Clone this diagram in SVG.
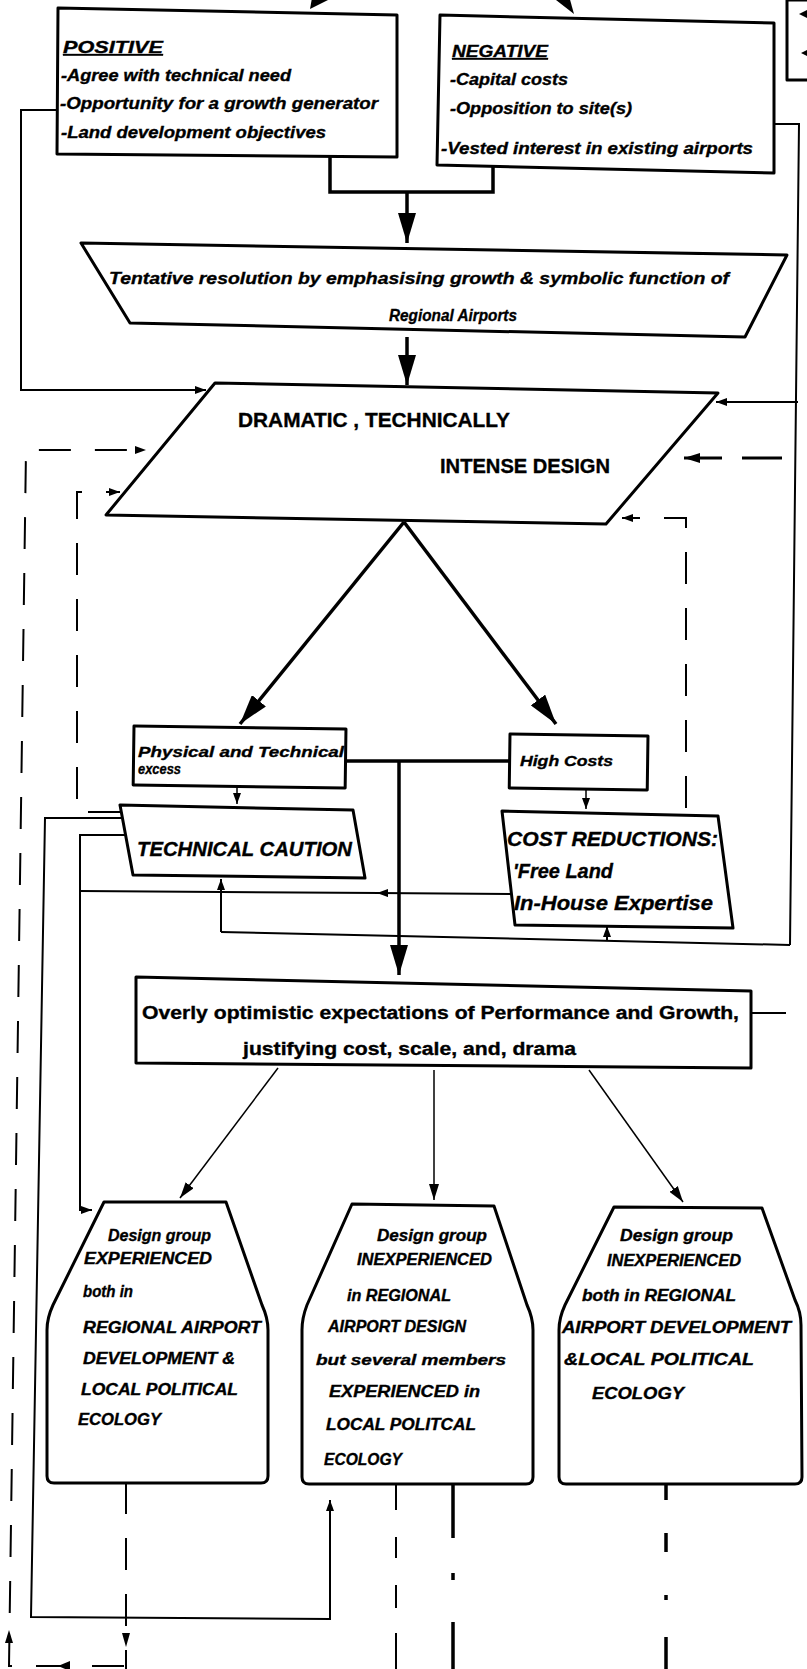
<svg xmlns="http://www.w3.org/2000/svg" width="807" height="1669" viewBox="0 0 807 1669">
<style>
.box{fill:#fff;stroke:#000;stroke-width:3;stroke-linejoin:round}
.ln{fill:none;stroke:#000;stroke-width:2}
.thk{fill:none;stroke:#000;stroke-width:3.5}
.thn{fill:none;stroke:#000;stroke-width:1.5}
.dsh{fill:none;stroke:#000;stroke-width:2;stroke-dasharray:32 24}
.ah{fill:#000}
text{font-family:"Liberation Sans",Arial,sans-serif;font-weight:bold;fill:#000;stroke:#000;stroke-width:0.35}
.it{font-style:italic}
.s15{font-size:15px}
.s16{font-size:16px}
.s17{font-size:17px}
.s18{font-size:18px}
.s20{font-size:20px}
.s21{font-size:21px}
</style>
<defs>
<marker id="big" markerWidth="30" markerHeight="18" refX="30" refY="9" orient="auto" markerUnits="userSpaceOnUse"><path d="M0,0 L30,9 L0,18 z" fill="#000"/></marker>
<marker id="med" markerWidth="16" markerHeight="10" refX="16" refY="5" orient="auto" markerUnits="userSpaceOnUse"><path d="M0,0 L16,5 L0,10 z" fill="#000"/></marker>
<marker id="sm" markerWidth="11" markerHeight="8" refX="11" refY="4" orient="auto" markerUnits="userSpaceOnUse"><path d="M0,0 L11,4 L0,8 z" fill="#000"/></marker>
</defs>
<rect x="0" y="0" width="807" height="1669" fill="#fff"/>

<g id="connectors">
<!-- top partial arrowheads -->
<polygon class="ah" points="310,9 312,-2 328,0"/>
<polygon class="ah" points="574,14 556,0 569,-4"/>
<!-- positive/negative join -->
<polyline class="thk" points="330,157 330,192 493,192 493,166"/>
<line class="thk" x1="407" y1="192" x2="407" y2="243" marker-end="url(#big)"/>
<!-- left loop from POSITIVE -->
<polyline class="ln" points="58,110 21,110 21,390 206,390" marker-end="url(#sm)"/>
<!-- right loop from NEGATIVE -->
<polyline class="ln" points="774,124 799,124 790,945"/>
<line class="ln" x1="798" y1="402" x2="716" y2="402" marker-end="url(#sm)"/>
<line class="ln" x1="790" y1="945" x2="221" y2="932"/>
<line class="ln" x1="607" y1="941" x2="607" y2="926" marker-end="url(#sm)"/>
<line class="ln" x1="221" y1="932" x2="221" y2="879" marker-end="url(#sm)"/>
<!-- tentative to dramatic -->
<line class="thk" x1="407" y1="337" x2="407" y2="385" marker-end="url(#big)"/>
<!-- dashed feedbacks -->
<path class="dsh" d="M124,1666 H9 L26,450 H146" marker-end="url(#sm)"/>
<polygon class="ah" points="58,1666 70,1661 70,1671"/>
<polygon class="ah" points="9,1630 5,1643 13,1643"/>
<path class="dsh" d="M126,1482 V1669"/>
<polygon class="ah" points="126,1647 122,1633 130,1633"/>
<path class="dsh" d="M120,812 H77 V492 H120" marker-end="url(#sm)"/>
<path class="dsh" d="M686,808 V518 H622" marker-end="url(#sm)"/>
<line class="dsh" x1="782" y1="458" x2="684" y2="458" style="stroke-width:3;stroke-dasharray:40 20" marker-end="url(#med)"/>
<!-- dramatic outputs -->
<line class="thk" x1="404" y1="522" x2="240" y2="724" marker-end="url(#big)"/>
<line class="thk" x1="404" y1="522" x2="556" y2="724" marker-end="url(#big)"/>
<line class="thk" x1="345" y1="761" x2="510" y2="761"/>
<line class="thk" x1="399" y1="761" x2="399" y2="975" marker-end="url(#big)"/>
<line class="thn" x1="237" y1="786" x2="237" y2="804" marker-end="url(#sm)"/>
<line class="thn" x1="586" y1="790" x2="586" y2="809" marker-end="url(#sm)"/>
<!-- technical caution side loops -->
<polyline class="ln" points="121,818 45,818 31,1617 330,1619 330,1500" marker-end="url(#sm)"/>
<polyline class="ln" points="125,835 80,835 80,1210 92,1210" marker-end="url(#sm)"/>
<line class="ln" x1="515" y1="894" x2="377" y2="893" marker-end="url(#sm)"/>
<line class="ln" x1="380" y1="893" x2="80" y2="891"/>
<!-- overly stub -->
<line class="ln" x1="752" y1="1013" x2="786" y2="1013"/>
<!-- overly to design groups -->
<line class="thn" x1="278" y1="1068" x2="180" y2="1198" marker-end="url(#med)"/>
<line class="thn" x1="434" y1="1070" x2="434" y2="1200" marker-end="url(#med)"/>
<line class="thn" x1="589" y1="1070" x2="683" y2="1202" marker-end="url(#med)"/>
<!-- bottom exits -->
<path class="ln" d="M396,1484 V1510 M396,1537 V1558 M396,1585 V1608 M396,1633 V1669"/>
<path class="thk" d="M453,1484 V1538 M453,1573 V1580 M453,1622 V1669"/>
<path class="thk" d="M666,1484 V1500 M666,1533 V1552 M666,1595 V1600 M666,1637 V1669"/>
</g>

<g id="node-right-partial">
<path class="box" d="M807,0 H787 V80 H809" style="stroke-width:3"/>
<polygon class="ah" points="799,14 807,10 807,18"/>
<polygon class="ah" points="801,53 807,50 807,56"/>
</g>

<g id="node-positive">
<polygon class="box" points="58,8 397,15 397,157 57,154"/>
<text class="it s17" x="63" y="53" textLength="100" lengthAdjust="spacingAndGlyphs" text-decoration="underline">POSITIVE</text>
<text class="it s16" x="61" y="81" textLength="230" lengthAdjust="spacingAndGlyphs">-Agree with technical need</text>
<text class="it s16" x="60" y="109" textLength="318" lengthAdjust="spacingAndGlyphs">-Opportunity for a growth generator</text>
<text class="it s16" x="61" y="138" textLength="265" lengthAdjust="spacingAndGlyphs">-Land development objectives</text>
</g>

<g id="node-negative">
<polygon class="box" points="440,15 774,23 774,173 437,165"/>
<text class="it s17" x="452" y="57" textLength="96" lengthAdjust="spacingAndGlyphs" text-decoration="underline">NEGATIVE</text>
<text class="it s16" x="450" y="85" textLength="118" lengthAdjust="spacingAndGlyphs">-Capital costs</text>
<text class="it s16" x="450" y="114" textLength="182" lengthAdjust="spacingAndGlyphs">-Opposition to site(s)</text>
<text class="it s16" x="441" y="154" textLength="312" lengthAdjust="spacingAndGlyphs">-Vested interest in existing airports</text>
</g>

<g id="node-tentative">
<polygon class="box" points="81,243 787,255 745,337 130,323"/>
<text class="it s17" x="109" y="284" textLength="620" lengthAdjust="spacingAndGlyphs">Tentative resolution by emphasising growth &amp; symbolic function of</text>
<text class="it s17" x="389" y="321" textLength="128" lengthAdjust="spacingAndGlyphs">Regional Airports</text>
</g>

<g id="node-dramatic">
<polygon class="box" points="215,383 718,393 606,524 106,515"/>
<text class="s21" x="238" y="427" textLength="272" lengthAdjust="spacingAndGlyphs">DRAMATIC , TECHNICALLY</text>
<text class="s21" x="440" y="473" textLength="170" lengthAdjust="spacingAndGlyphs">INTENSE DESIGN</text>
</g>

<g id="node-physical">
<rect class="box" x="134" y="726" width="212" height="59" transform="rotate(0.8 134 726)"/>
<text class="it s15" x="138" y="757" textLength="206" lengthAdjust="spacingAndGlyphs">Physical and Technical</text>
<text class="it s15" x="138" y="774" textLength="43" lengthAdjust="spacingAndGlyphs">excess</text>
</g>

<g id="node-highcosts">
<rect class="box" x="510" y="734" width="138" height="54" transform="rotate(0.8 510 734)"/>
<text class="it s15" x="520" y="766" textLength="93" lengthAdjust="spacingAndGlyphs">High Costs</text>
</g>

<g id="node-technical-caution">
<polygon class="box" points="120,805 353,810 365,878 133,875"/>
<text class="it s20" x="137" y="856" textLength="215" lengthAdjust="spacingAndGlyphs">TECHNICAL CAUTION</text>
</g>

<g id="node-cost-reductions">
<polygon class="box" points="502,811 718,816 733,928 515,925"/>
<text class="it s20" x="507" y="846" textLength="211" lengthAdjust="spacingAndGlyphs">COST REDUCTIONS:</text>
<text class="it s20" x="513" y="878" textLength="100" lengthAdjust="spacingAndGlyphs">'Free  Land</text>
<text class="it s20" x="514" y="910" textLength="199" lengthAdjust="spacingAndGlyphs">In-House Expertise</text>
</g>

<g id="node-overly">
<polygon class="box" points="136,977 751,991 751,1068 136,1063"/>
<text class="s18" x="142" y="1019" textLength="597" lengthAdjust="spacingAndGlyphs">Overly optimistic expectations of Performance and Growth,</text>
<text class="s18" x="243" y="1055" textLength="333" lengthAdjust="spacingAndGlyphs">justifying cost, scale, and, drama</text>
</g>

<g id="node-group-experienced">
<path class="box" d="M104,1202 L226,1202 L262,1305 Q268,1318 268,1330 L268,1476 Q268,1483 261,1483 L54,1483 Q47,1483 47,1476 L47,1330 Q47,1318 53,1305 Z"/>
<text class="it s16" x="108" y="1241" textLength="103" lengthAdjust="spacingAndGlyphs">Design group</text>
<text class="it s16" x="84" y="1264" textLength="128" lengthAdjust="spacingAndGlyphs">EXPERIENCED</text>
<text class="it s16" x="83" y="1297" textLength="50" lengthAdjust="spacingAndGlyphs">both in</text>
<text class="it s16" x="83" y="1333" textLength="178" lengthAdjust="spacingAndGlyphs">REGIONAL AIRPORT</text>
<text class="it s16" x="83" y="1364" textLength="152" lengthAdjust="spacingAndGlyphs">DEVELOPMENT &amp;</text>
<text class="it s16" x="81" y="1395" textLength="157" lengthAdjust="spacingAndGlyphs">LOCAL POLITICAL</text>
<text class="it s16" x="78" y="1425" textLength="83" lengthAdjust="spacingAndGlyphs">ECOLOGY</text>
</g>

<g id="node-group-inexperienced-airport">
<path class="box" d="M352,1204 L494,1206 L527,1305 Q533,1318 533,1330 L533,1477 Q533,1484 526,1484 L309,1484 Q302,1484 302,1477 L302,1330 Q302,1318 307,1305 Z"/>
<text class="it s16" x="377" y="1241" textLength="110" lengthAdjust="spacingAndGlyphs">Design group</text>
<text class="it s16" x="357" y="1265" textLength="135" lengthAdjust="spacingAndGlyphs">INEXPERIENCED</text>
<text class="it s16" x="347" y="1301" textLength="104" lengthAdjust="spacingAndGlyphs">in  REGIONAL</text>
<text class="it s16" x="328" y="1332" textLength="138" lengthAdjust="spacingAndGlyphs">AIRPORT DESIGN</text>
<text class="it s15" x="316" y="1365" textLength="190" lengthAdjust="spacingAndGlyphs">but several members</text>
<text class="it s16" x="329" y="1397" textLength="151" lengthAdjust="spacingAndGlyphs">EXPERIENCED in</text>
<text class="it s16" x="326" y="1430" textLength="150" lengthAdjust="spacingAndGlyphs">LOCAL POLITCAL</text>
<text class="it s16" x="324" y="1465" textLength="78" lengthAdjust="spacingAndGlyphs">ECOLOGY</text>
</g>

<g id="node-group-inexperienced-both">
<path class="box" d="M614,1207 L762,1208 L795,1300 Q801,1312 801,1325 L802,1477 Q802,1484 795,1484 L566,1484 Q559,1484 559,1477 L559,1330 Q559,1318 565,1305 Z"/>
<text class="it s16" x="620" y="1241" textLength="113" lengthAdjust="spacingAndGlyphs">Design group</text>
<text class="it s16" x="607" y="1266" textLength="134" lengthAdjust="spacingAndGlyphs">INEXPERIENCED</text>
<text class="it s16" x="582" y="1301" textLength="154" lengthAdjust="spacingAndGlyphs">both in REGIONAL</text>
<text class="it s16" x="562" y="1333" textLength="229" lengthAdjust="spacingAndGlyphs">AIRPORT DEVELOPMENT</text>
<text class="it s16" x="564" y="1365" textLength="190" lengthAdjust="spacingAndGlyphs">&amp;LOCAL POLITICAL</text>
<text class="it s16" x="592" y="1399" textLength="92" lengthAdjust="spacingAndGlyphs">ECOLOGY</text>
</g>
</svg>
